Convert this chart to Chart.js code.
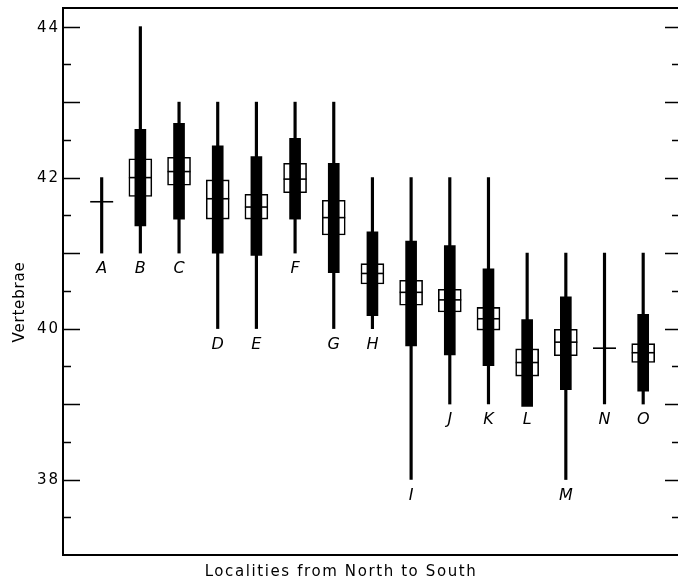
<!DOCTYPE html>
<html>
<head>
<meta charset="utf-8">
<script src="https://cdn.jsdelivr.net/npm/chart.js@4/dist/chart.umd.min.js"></script>
<style>
  html, body { margin: 0; padding: 0; background: #fff; }
  #wrap { width: 678px; height: 581px; }
</style>
</head>
<body>
<div id="wrap"><canvas id="c" width="678" height="581"></canvas></div>
<script>
// ---- Data ----
const localities = ['A','B','C','D','E','F','G','H','I','J','K','L','M','N','O'];
const rangeMin = [41, 41, 41, 40, 40, 41, 40, 40, 38, 39, 39, 39, 38, 39, 39];
const rangeMax = [42, 44, 43, 43, 43, 43, 43, 42, 42, 42, 42, 41, 41, 41, 41];
const means    = [41.68, 42.00, 42.08, 41.72, 41.61, 41.98, 41.47, 40.73, 40.48, 40.38, 40.13, 39.55, 39.82, 39.74, 39.68];
const sdLow    = [null, 41.36, 41.45, 41.00, 40.97, 41.45, 40.74, 40.17, 39.77, 39.65, 39.51, 38.97, 39.19, null, 39.17];
const sdHigh   = [null, 42.64, 42.72, 42.42, 42.28, 42.52, 42.19, 41.28, 41.16, 41.10, 40.79, 40.12, 40.42, null, 40.19];
const seLow    = [null, 41.75, 41.90, 41.45, 41.45, 41.80, 41.24, 40.59, 40.31, 40.22, 39.98, 39.37, 39.64, null, 39.55];
const seHigh   = [null, 42.25, 42.27, 41.97, 41.78, 42.19, 41.70, 40.86, 40.64, 40.52, 40.28, 39.73, 39.99, null, 39.80];
const yTickLabels = [38, 40, 42, 44];
const yTitle = 'Vertebrae';
const xTitle = 'Localities from North to South';

const pos = localities.map((_, i) => i + 1);
const floating = (lo, hi) => pos.map((x, i) => (lo[i] == null ? null : { x: x, y: [lo[i], hi[i]] })).filter(d => d);

const FONT = "'DejaVu Sans', sans-serif";

const decor = {
  id: 'decor',
  afterDatasetsDraw(chart) {
    const { ctx, chartArea: ca, scales: { x, y } } = chart;
    ctx.save();
    ctx.strokeStyle = '#000';
    ctx.fillStyle = '#000';
    // frame
    ctx.lineWidth = 2;
    ctx.beginPath();
    ctx.moveTo(ca.right, ca.top); ctx.lineTo(ca.left, ca.top);
    ctx.lineTo(ca.left, ca.bottom); ctx.lineTo(ca.right, ca.bottom);
    ctx.stroke();
    // ticks
    ctx.lineWidth = 1.6;
    for (let v = 37.5; v <= 44.001; v += 0.5) {
      const py = Math.round(y.getPixelForValue(v)) + 0.5;
      const major = Math.abs(v - Math.round(v)) < 1e-6;
      ctx.beginPath();
      ctx.moveTo(ca.left, py); ctx.lineTo(ca.left + (major ? 17 : 8), py);
      ctx.moveTo(ca.right, py); ctx.lineTo(ca.right - (major ? 13 : 6), py);
      ctx.stroke();
    }
    // tick labels
    ctx.font = '15px ' + FONT;
    ctx.letterSpacing = '2px';
    ctx.textAlign = 'right';
    ctx.textBaseline = 'middle';
    yTickLabels.forEach(v => ctx.fillText(String(v), ca.left - 3, y.getPixelForValue(v) + 1));
    // locality letters
    ctx.letterSpacing = '0px';
    ctx.font = 'italic 16px ' + FONT;
    ctx.textAlign = 'center';
    localities.forEach((l, i) => {
      ctx.fillText(l, x.getPixelForValue(pos[i]), y.getPixelForValue(rangeMin[i]) + 16);
    });
    // axis titles
    ctx.font = '15px ' + FONT;
    ctx.letterSpacing = '1.6px';
    ctx.fillText(xTitle, 341, 572);
    ctx.letterSpacing = '0.8px';
    ctx.save();
    ctx.translate(20, 302);
    ctx.rotate(-Math.PI / 2);
    ctx.fillText(yTitle, 0, 0);
    ctx.restore();
    ctx.restore();
  }
};

new Chart(document.getElementById('c'), {
  type: 'bar',
  data: {
    datasets: [
      { type: 'scatter', data: pos.map((x, i) => ({ x: x, y: means[i] })), pointStyle: 'line',
        radius: 11.5, borderWidth: 1.6, borderColor: '#000', order: 1 },
      { label: 'sd', data: floating(sdLow, sdHigh), backgroundColor: '#000', borderWidth: 0,
        barThickness: 11, grouped: false, order: 2 },
      { label: 'se', data: floating(seLow, seHigh), backgroundColor: '#fff', borderColor: '#000',
        borderWidth: 1.6, borderSkipped: false, barThickness: 23, grouped: false, order: 3 },
      { label: 'range', data: floating(rangeMin, rangeMax), backgroundColor: '#000', borderWidth: 0,
        barThickness: 2.5, grouped: false, order: 4 }
    ]
  },
  options: {
    responsive: false,
    animation: false,
    events: [],
    layout: { autoPadding: false, padding: { left: 63, top: 8, right: 0, bottom: 26 } },
    plugins: { legend: { display: false }, tooltip: { enabled: false } },
    scales: {
      x: { type: 'linear', min: 0, max: 15.9, display: false, offset: false },
      y: { type: 'linear', min: 37.0, max: 44.247, display: false }
    }
  },
  plugins: [decor]
});
</script>
</body>
</html>
